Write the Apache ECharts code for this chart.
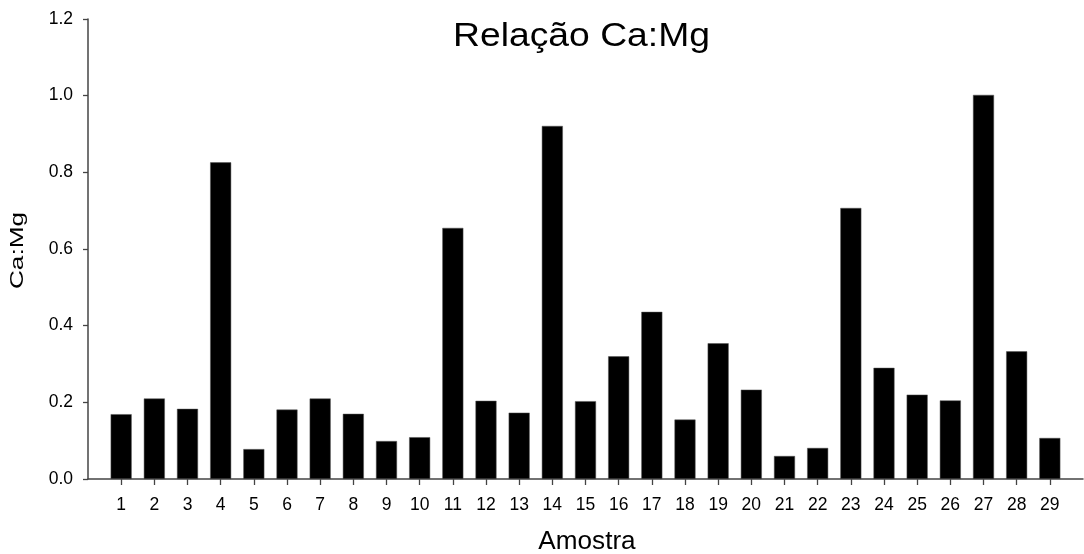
<!DOCTYPE html>
<html><head><meta charset="utf-8">
<script src="https://cdn.jsdelivr.net/npm/echarts@6/dist/echarts.min.js"></script>
<style>html,body{margin:0;padding:0;background:#fff;overflow:hidden}#c{width:1084px;height:554px}</style>
</head><body><div id="c"></div>
<script>
var samples = [1,2,3,4,5,6,7,8,9,10,11,12,13,14,15,16,17,18,19,20,21,22,23,24,25,26,27,28,29];
var ratios = [0.169,0.210,0.183,0.826,0.078,0.181,0.210,0.170,0.099,0.109,0.655,0.204,0.173,0.921,0.203,0.320,0.436,0.155,0.354,0.233,0.060,0.081,0.707,0.290,0.220,0.205,1.002,0.333,0.107];
var yTicks = [0,0.2,0.4,0.6,0.8,1.0,1.2];
var titleText = 'Relação Ca:Mg';
var xName = 'Amostra';
var yName = 'Ca:Mg';

var font = 'Liberation Sans, Arial, sans-serif';
var axisColor = '#444';
var chart = echarts.init(document.getElementById('c'), null, {renderer:'canvas'});
chart.setOption({
  animation:false,
  backgroundColor:'#fff',
  grid:{left:88,right:1,top:19,bottom:75,containLabel:false},
  graphic:[
    {type:'text',x:581.5,y:37,scaleX:1.147,
      style:{text:titleText,font:'32.5px '+font,fill:'#000',textAlign:'center',textVerticalAlign:'middle'}},
    {type:'text',x:587,y:542,scaleX:1.045,
      style:{text:xName,font:'25px '+font,fill:'#000',textAlign:'center',textVerticalAlign:'middle'}},
    {type:'text',x:18.3,y:250.5,rotation:Math.PI/2,scaleX:1.41,
      style:{text:yName,font:'18.6px '+font,fill:'#000',textAlign:'center',textVerticalAlign:'middle'}}
  ],
  xAxis:{type:'value',min:0,max:30,interval:1,
    axisLine:{show:true,lineStyle:{color:axisColor,width:1.5}},
    axisTick:{show:true,customValues:samples,length:6,lineStyle:{color:axisColor,width:1.3}},
    axisLabel:{customValues:samples,fontFamily:font,fontSize:17.5,color:'#000',margin:17,formatter:function(v){return String(v);}},
    splitLine:{show:false}},
  yAxis:{type:'value',min:0,max:1.2,interval:0.2,
    axisLine:{show:true,lineStyle:{color:axisColor,width:1.5}},
    axisTick:{show:true,customValues:yTicks,length:5,lineStyle:{color:axisColor,width:1.3}},
    axisLabel:{customValues:yTicks,fontFamily:font,fontSize:17.5,color:'#000',margin:15,formatter:function(v){return v.toFixed(1);}},
    splitLine:{show:false}},
  series:[{type:'bar',barWidth:21,
    itemStyle:{color:'#000',borderColor:'#555',borderWidth:0.5},
    data:samples.map(function(s,i){return [s,ratios[i]];})}]
});
</script></body></html>
